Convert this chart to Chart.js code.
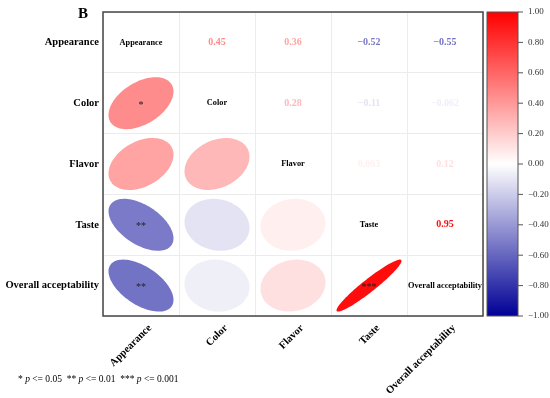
<!DOCTYPE html>
<html>
<head>
<meta charset="utf-8">
<script src="https://cdn.jsdelivr.net/npm/chart.js@4.4.0/dist/chart.umd.min.js"></script>
<style>
  body { margin: 0; background: #fff; }
  #wrap { width: 550px; height: 398px; }
</style>
</head>
<body>
<div id="wrap"><canvas id="corrChart" width="550" height="398"></canvas></div>
<script>
// Variables (rows top-to-bottom, columns left-to-right)
const variables = ["Appearance", "Color", "Flavor", "Taste", "Overall acceptability"];

// Correlation matrix rows
const corrAppearance = [1, 0.45, 0.36, -0.52, -0.55];
const corrColor = [0.45, 1, 0.28, -0.11, -0.062];
const corrFlavor = [0.36, 0.28, 1, 0.063, 0.12];
const corrTaste = [-0.52, -0.11, 0.063, 1, 0.95];
const corrOverall = [-0.55, -0.062, 0.12, 0.95, 1];

// Significance stars
const sigAppearance = ["", "*", "", "**", "**"];
const sigColor = ["*", "", "", "", ""];
const sigFlavor = ["", "", "", "", ""];
const sigTaste = ["**", "", "", "", "***"];
const sigOverall = ["**", "", "", "***", ""];

const colorbarTicks = [1, 0.8, 0.6, 0.4, 0.2, 0, -0.2, -0.4, -0.6, -0.8, -1];

const corrRows = [corrAppearance, corrColor, corrFlavor, corrTaste, corrOverall];
const sigRows = [sigAppearance, sigColor, sigFlavor, sigTaste, sigOverall];

const SERIF = "'Liberation Serif', 'Times New Roman', serif";

function corrToColor(r) {
  if (r >= 0) {
    const v = Math.round(255 * (1 - r));
    return "rgb(255," + v + "," + v + ")";
  }
  const t = -r;
  const v = Math.round(255 * (1 - t));
  const b = Math.round(255 - t * (255 - 150));
  return "rgb(" + v + "," + v + "," + b + ")";
}

function fmt(r) {
  return r.toPrecision(2).replace("-", "\u2212");
}

// lower triangle points (ellipses)
const lowerPoints = [];
corrRows.forEach((row, i) => {
  row.forEach((r, j) => {
    if (j < i) {
      lowerPoints.push({ x: variables[j], y: variables[i], r: r, sig: sigRows[i][j] });
    }
  });
});

const corrPlugin = {
  id: "corrPlugin",
  afterDatasetsDraw(chart) {
    const ctx = chart.ctx;
    const xs = chart.scales.x;
    const ys = chart.scales.y;
    const area = chart.chartArea;
    const cellW = (area.right - area.left) / variables.length;
    const cellH = (area.bottom - area.top) / variables.length;
    const hw = 0.855 * cellW / 2;
    const hh = 0.855 * cellH / 2;

    ctx.save();
    // ellipses
    const meta = chart.getDatasetMeta(0);
    meta.data.forEach((pt, k) => {
      const d = lowerPoints[k];
      const delta = Math.acos(d.r);
      ctx.beginPath();
      for (let s = 0; s <= 100; s++) {
        const t = (s / 100) * Math.PI * 2;
        const ex = Math.cos(t + delta / 2);
        const ey = Math.cos(t - delta / 2);
        const px = pt.x + ex * hw;
        const py = pt.y - ey * hh;
        if (s === 0) ctx.moveTo(px, py);
        else ctx.lineTo(px, py);
      }
      ctx.closePath();
      ctx.fillStyle = corrToColor(d.r);
      ctx.fill();
      if (d.sig) {
        ctx.fillStyle = "#222";
        ctx.font = "10px " + SERIF;
        ctx.textAlign = "center";
        ctx.textBaseline = "middle";
        ctx.fillText(d.sig, pt.x, pt.y + 2);
      }
    });

    // diagonal labels and upper triangle values
    ctx.textAlign = "center";
    ctx.textBaseline = "middle";
    corrRows.forEach((row, i) => {
      row.forEach((r, j) => {
        const cx = xs.getPixelForValue(j);
        const cy = ys.getPixelForValue(i);
        if (i === j) {
          ctx.fillStyle = "#000";
          ctx.font = "bold 8.3px " + SERIF;
          ctx.fillText(variables[i], cx, cy);
        } else if (j > i) {
          ctx.fillStyle = corrToColor(r);
          ctx.font = "bold 10px " + SERIF;
          ctx.fillText(fmt(r), cx, cy);
        }
      });
    });

    // plot frame
    ctx.strokeStyle = "#444";
    ctx.lineWidth = 1.5;
    ctx.strokeRect(area.left, area.top, area.right - area.left, area.bottom - area.top);

    // colorbar
    const cb = chart.scales.cb;
    const top = cb.getPixelForValue(1);
    const bottom = cb.getPixelForValue(-1);
    const cbLeft = area.right + 4;
    const cbWidth = 31;
    const grad = ctx.createLinearGradient(0, top, 0, bottom);
    grad.addColorStop(0, corrToColor(1));
    grad.addColorStop(0.5, corrToColor(0));
    grad.addColorStop(1, corrToColor(-1));
    ctx.fillStyle = grad;
    ctx.fillRect(cbLeft, top, cbWidth, bottom - top);
    ctx.strokeStyle = "#555";
    ctx.lineWidth = 1;
    ctx.strokeRect(cbLeft, top, cbWidth, bottom - top);

    ctx.font = "9px " + SERIF;
    ctx.fillStyle = "#333";
    ctx.textAlign = "left";
    ctx.textBaseline = "middle";
    colorbarTicks.forEach((v) => {
      const y = cb.getPixelForValue(v);
      ctx.beginPath();
      ctx.moveTo(cbLeft + cbWidth, y);
      ctx.lineTo(cbLeft + cbWidth + 5, y);
      ctx.stroke();
      ctx.fillText(v.toFixed(2).replace("-", "\u2212"), cbLeft + cbWidth + 10, y);
    });

    // panel letter
    ctx.fillStyle = "#000";
    ctx.font = "bold 15px " + SERIF;
    ctx.textAlign = "center";
    ctx.textBaseline = "alphabetic";
    ctx.fillText("B", 83, 18);

    // footnote with italic p
    const parts = [
      ["* ", false], ["p", true], [" <= 0.05  ** ", false], ["p", true],
      [" <= 0.01  *** ", false], ["p", true], [" <= 0.001", false],
    ];
    let fx = 18;
    ctx.textAlign = "left";
    ctx.textBaseline = "middle";
    parts.forEach(([txt, ital]) => {
      ctx.font = (ital ? "italic " : "") + "9.5px " + SERIF;
      ctx.fillText(txt, fx, 379);
      fx += ctx.measureText(txt).width;
    });
    ctx.restore();
  },
};

const chart = new Chart(document.getElementById("corrChart"), {
  type: "scatter",
  data: {
    datasets: [
      {
        data: lowerPoints,
        pointRadius: 0,
        pointHoverRadius: 0,
      },
    ],
  },
  options: {
    responsive: false,
    animation: false,
    layout: { padding: { left: 0, right: 67, top: 12, bottom: 0 } },
    plugins: {
      legend: { display: false },
      tooltip: { enabled: false },
    },
    scales: {
      x: {
        type: "category",
        labels: variables,
        offset: true,
        grid: { offset: true, color: "#ececec", drawTicks: false },
        border: { display: false },
        ticks: {
          minRotation: 45,
          maxRotation: 45,
          padding: 6,
          labelOffset: 9,
          color: "#000",
          font: { family: SERIF, size: 10.5, weight: "bold" },
        },
        afterFit: (scale) => { scale.height = 82; },
      },
      y: {
        type: "category",
        labels: variables,
        offset: true,
        grid: { offset: true, color: "#ececec", drawTicks: false },
        border: { display: false },
        ticks: {
          padding: 4,
          color: "#000",
          font: { family: SERIF, size: 10.5, weight: "bold" },
        },
        afterFit: (scale) => { scale.width = 103; },
      },
      cb: {
        type: "linear",
        position: "right",
        min: -1,
        max: 1,
        display: false,
      },
    },
  },
  plugins: [corrPlugin],
});
</script>
</body>
</html>
